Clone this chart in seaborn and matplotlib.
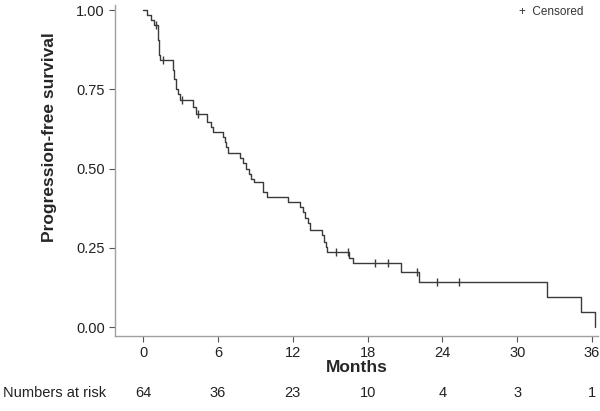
import numpy as np
import pandas as pd
import seaborn as sns
import matplotlib.pyplot as plt

# step points of the Kaplan-Meier curve (months, survival after the step)
step_months = [0.0, 0.3, 0.6, 0.9, 1.15, 1.2, 1.25, 1.3, 1.35,
               2.4, 2.5, 2.65, 2.8, 2.95,
               4.0, 4.2, 5.1, 5.4, 5.6,
               6.4, 6.55, 6.65, 6.8,
               7.8, 8.0, 8.25, 8.45, 8.65, 8.85,
               9.6, 9.9, 11.6,
               12.6, 12.8, 13.0, 13.2, 13.4,
               14.35, 14.5, 14.65, 14.75,
               16.5, 16.8, 20.7, 22.1, 32.4, 35.1, 36.25]
step_surv = [1.0, 0.984, 0.969, 0.953, 0.937, 0.906, 0.875, 0.859, 0.844,
             0.812, 0.781, 0.750, 0.734, 0.716,
             0.694, 0.672, 0.647, 0.630, 0.615,
             0.599, 0.583, 0.567, 0.549,
             0.533, 0.517, 0.500, 0.484, 0.468, 0.457,
             0.425, 0.410, 0.394,
             0.378, 0.362, 0.346, 0.330, 0.306,
             0.290, 0.270, 0.253, 0.237,
             0.220, 0.202, 0.173, 0.142, 0.095, 0.047, 0.0]

censor_months = [1.0, 1.6, 3.1, 4.4, 15.5, 16.4, 18.6, 19.65, 22.0, 23.6, 25.3]
censor_surv = [0.953, 0.844, 0.716, 0.672, 0.237, 0.237, 0.202, 0.202, 0.173, 0.142, 0.142]

tick_months = [0, 6, 12, 18, 24, 30, 36]
at_risk = [64, 36, 23, 10, 4, 3, 1]

curve = pd.DataFrame({'Months': step_months, 'Survival': step_surv})
cens = pd.DataFrame({'Months': censor_months, 'Survival': censor_surv})

sns.set_style('ticks')
plt.rcParams['font.family'] = ['Liberation Sans', 'DejaVu Sans']

fig = plt.figure(figsize=(6, 4.11), dpi=100)
ax = fig.add_axes([0.192, 0.182, 0.805, 0.806])

sns.lineplot(data=curve, x='Months', y='Survival', drawstyle='steps-post',
             estimator=None, sort=False, color='#3a3a3a', linewidth=1.0, ax=ax)
sns.scatterplot(data=cens, x='Months', y='Survival', marker='|', s=40,
                color='#3a3a3a', linewidth=1.0, ax=ax)

ax.set_xlim(-2.25, 36.5)
ax.set_ylim(-0.028, 1.016)
ax.set_xticks(tick_months)
ax.set_yticks([0, 0.25, 0.5, 0.75, 1.0])
ax.set_yticklabels(['0.00', '0.25', '0.50', '0.75', '1.00'])
sns.despine(ax=ax)
for s in ['left', 'bottom']:
    ax.spines[s].set_color('#a0a0a0')
    ax.spines[s].set_linewidth(1.0)
ax.tick_params(colors='#555555', labelcolor='#222222', labelsize=10.5, length=4, width=0.8)
ax.tick_params(axis='x', pad=3)

ax.set_xlabel('Months', fontsize=12.5, fontweight='bold')
ax.set_ylabel('Progression-free survival', fontsize=12.5, fontweight='bold')
ax.xaxis.set_label_coords(0.5, -0.072)
ax.yaxis.set_label_coords(-0.121, 0.6)

# numbers at risk row
fig.text(0.005, 0.045, 'Numbers at risk', fontsize=10.5, color='#222222', va='center')
for m, n in zip(tick_months, at_risk):
    ax.annotate(str(n), xy=(m, 0), xycoords=('data', 'figure fraction'),
                xytext=(0, 0.045 * 411), textcoords='offset pixels',
                ha='center', va='center', fontsize=10.5, color='#222222')

fig.text(0.865, 0.97, '+  Censored', fontsize=8.5, color='#333333', va='center')

fig.savefig('out.png', dpi=100)
